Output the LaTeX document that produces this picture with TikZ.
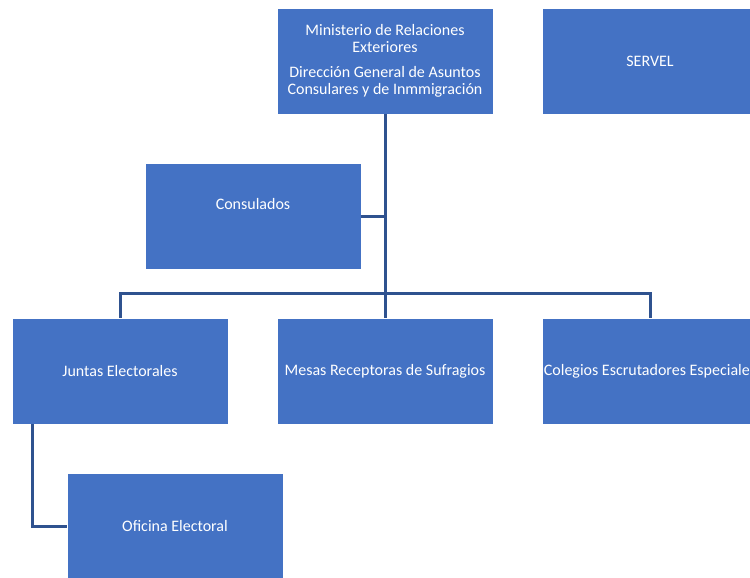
\documentclass[tikz,border=0pt]{standalone}
\usepackage{fontspec}
\setmainfont{Carlito}
\usepackage{xcolor}
\usetikzlibrary{positioning}
\definecolor{azul}{HTML}{4472C4}
\definecolor{linea}{HTML}{2F528F}
\tikzset{
  caja/.style={fill=azul, draw=white, line width=0.6pt, text=white, align=center,
    minimum width=216pt, minimum height=106pt, inner sep=0pt,
    font=\fontsize{16}{17}\selectfont},
  rama/.style={draw=linea, line width=3pt}
}
\begin{document}
\begin{tikzpicture}[x=1pt,y=-1pt]
        \useasboundingbox (0,0) rectangle (750,578);
        % Cajas de arriba
        \node[caja] (ministerio) at (385,61) {Ministerio de Relaciones\\Exteriores\\[8pt]Dirección General de Asuntos\\Consulares y de Inmmigración};
        \node[caja] (servel) at (650,61) {SERVEL};
        % Consulados al lado de la línea
        \node[caja] (consulados) at (253,216) {Consulados\\[7pt]\mbox{}};
        % Fila de abajo
        \node[caja] (juntas) at (120,371) {Juntas Electorales};
        \node[caja] (mesas) at (385,371) {Mesas Receptoras de Sufragios};
        \node[caja] (colegios) at (650,371) {Colegios Escrutadores Especiales};
        \node[caja] (oficina) at (175,526) {Oficina Electoral};
        % Líneas
        \coordinate (bus) at (385,293);
        \draw[rama] (ministerio.south) -- (mesas.north);
        \draw[rama] (consulados.east) -- (consulados.east -| bus);
        \draw[rama] (juntas.north) |- (bus) -| (colegios.north);
        \draw[rama] ([xshift=-88pt]juntas.south) |- (oficina.west);
    \end{tikzpicture}
\end{document}
